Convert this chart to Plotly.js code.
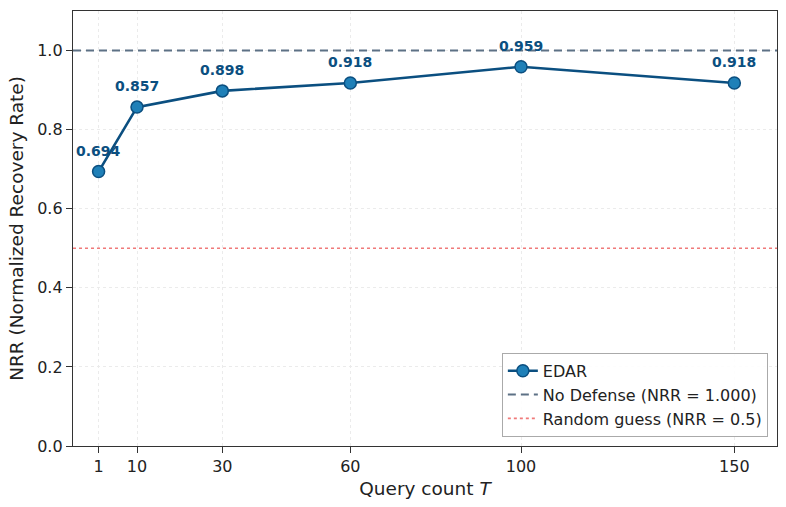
<!DOCTYPE html>
<html>
<head>
<meta charset="utf-8">
<script src="https://cdn.plot.ly/plotly-3.0.1.min.js"></script>
<style>
  html, body { margin: 0; padding: 0; background: white; }
  #chart { width: 786px; height: 507px; }
</style>
</head>
<body>
<div id="chart"></div>
<script>
// Query counts and recovery rates
const queryCounts = [1, 10, 30, 60, 100, 150];
const nrrValues = [0.694, 0.857, 0.898, 0.918, 0.959, 0.918];
const xTickVals = [1, 10, 30, 60, 100, 150];
const yTickVals = [0.0, 0.2, 0.4, 0.6, 0.8, 1.0];
const noDefenseLevel = 1.0;
const randomGuessLevel = 0.5;
const xLimits = [-5, 160];

const fontFamily = 'DejaVu Sans, sans-serif';
const lineBlue = '#0b4f80';

const edarTrace = {
    x: queryCounts,
    y: nrrValues,
    type: 'scatter',
    mode: 'lines+markers',
    name: 'EDAR',
    line: { color: lineBlue, width: 2.6 },
    marker: { size: 12, color: '#1f80b8', line: { color: lineBlue, width: 1.5 } }
};

const noDefenseTrace = {
    x: xLimits,
    y: [noDefenseLevel, noDefenseLevel],
    type: 'scatter',
    mode: 'lines',
    name: 'No Defense (NRR = 1.000)',
    line: { color: '#5d7185', width: 2, dash: '8px,5px' }
};

const randomTrace = {
    x: xLimits,
    y: [randomGuessLevel, randomGuessLevel],
    type: 'scatter',
    mode: 'lines',
    name: 'Random guess (NRR = 0.5)',
    line: { color: '#f07a7a', width: 1.6, dash: 'dot' }
};

// Value labels above each point
const valueLabels = queryCounts.map((q, i) => ({
    x: q,
    y: nrrValues[i],
    text: nrrValues[i].toFixed(3),
    showarrow: false,
    yshift: 21,
    font: { family: fontFamily, size: 14, color: lineBlue, weight: 'bold' }
}));

const axisCommon = {
    showline: true,
    linecolor: '#333',
    linewidth: 1.2,
    mirror: true,
    ticks: 'outside',
    ticklen: 6,
    tickcolor: '#333',
    tickfont: { family: fontFamily, size: 16, color: '#222' },
    showgrid: true,
    gridcolor: '#ebebeb',
    griddash: '3px,3px',
    gridwidth: 1,
    zeroline: false
};

const layout = {
    width: 786,
    height: 507,
    margin: { l: 73, r: 9, t: 11, b: 61 },
    paper_bgcolor: 'white',
    plot_bgcolor: 'white',
    font: { family: fontFamily },
    xaxis: Object.assign({}, axisCommon, {
        range: xLimits,
        tickmode: 'array',
        tickvals: xTickVals,
        title: { text: 'Query count <i>T</i>', font: { family: fontFamily, size: 18.5, color: '#222' }, standoff: 6 }
    }),
    yaxis: Object.assign({}, axisCommon, {
        range: [0, 1.1],
        tickmode: 'array',
        tickvals: yTickVals,
        tickformat: '.1f',
        title: { text: 'NRR (Normalized Recovery Rate)', font: { family: fontFamily, size: 18.5, color: '#222' }, standoff: 8 }
    }),
    showlegend: true,
    legend: {
        x: 0.987,
        y: 0.021,
        xanchor: 'right',
        yanchor: 'bottom',
        bgcolor: 'rgba(255,255,255,0.9)',
        bordercolor: '#aaa',
        borderwidth: 1,
        font: { family: fontFamily, size: 16, color: '#222' },
        tracegroupgap: 2
    },
    annotations: valueLabels
};

Plotly.newPlot('chart', [edarTrace, noDefenseTrace, randomTrace], layout, { displayModeBar: false, staticPlot: true });
</script>
</body>
</html>
